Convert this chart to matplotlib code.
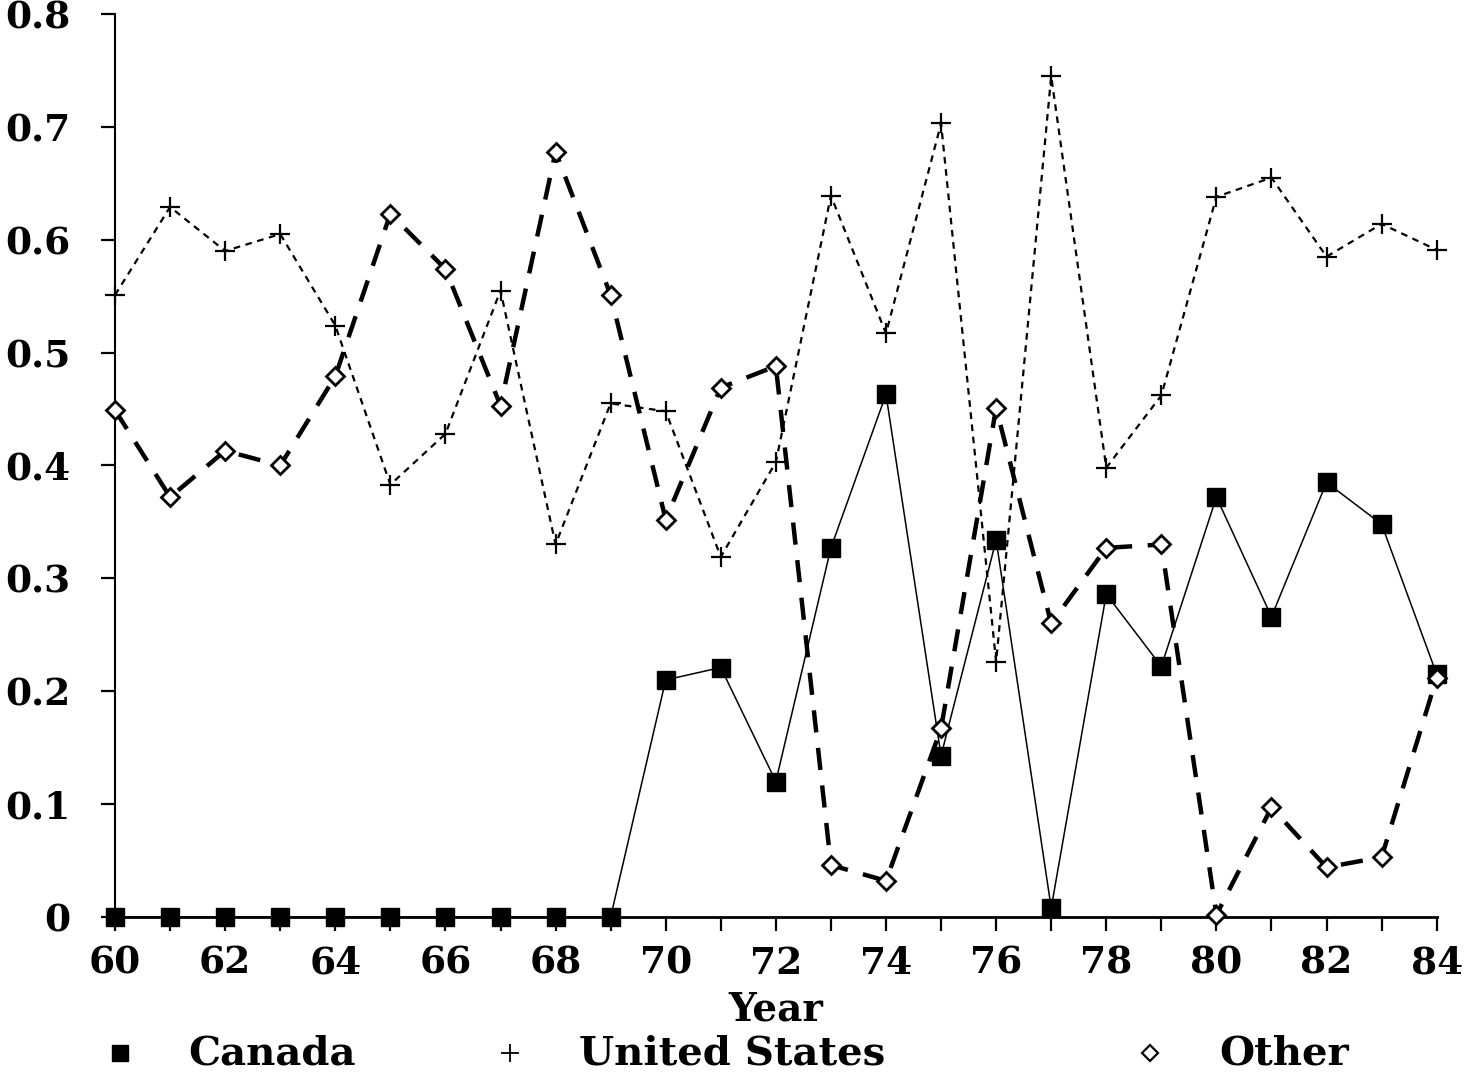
import matplotlib
matplotlib.use("Agg")
import matplotlib.pyplot as plt
from matplotlib.lines import Line2D

years = list(range(60, 85))

canada = [0, 0, 0, 0, 0, 0, 0, 0, 0, 0,
          0.210, 0.221, 0.120, 0.327, 0.463, 0.143, 0.334, 0.008,
          0.286, 0.222, 0.372, 0.266, 0.385, 0.348, 0.215]

united_states = [0.551, 0.629, 0.590, 0.605, 0.524, 0.383, 0.428, 0.555,
                 0.330, 0.455, 0.448, 0.319, 0.403, 0.639, 0.517, 0.703,
                 0.226, 0.745, 0.398, 0.462, 0.638, 0.655, 0.585, 0.614, 0.591]

other = [0.449, 0.372, 0.413, 0.400, 0.479, 0.623, 0.574, 0.453, 0.678,
         0.551, 0.352, 0.469, 0.488, 0.046, 0.032, 0.167, 0.451, 0.260,
         0.327, 0.330, 0.002, 0.097, 0.044, 0.053, 0.212]

series_names = ["Canada", "United States", "Other"]

plt.rcParams['font.family'] = ['DejaVu Serif']
plt.rcParams['font.weight'] = 'bold'

fig = plt.figure(figsize=(14.69, 10.76), dpi=100)
ax = fig.add_axes([0.0783, 0.1478, 0.8997, 0.8392])

ax.plot(years, canada, color='black', lw=1.1, ls='-', marker='s',
        markersize=13, markerfacecolor='black', clip_on=False, zorder=3)
ax.plot(years, united_states, color='black', lw=1.6, ls=(0, (3, 2.5)),
        marker='+', markersize=14, markeredgewidth=1.6, clip_on=False, zorder=3)
ax.plot(years, other, color='black', lw=3.2, ls=(0, (5, 3.5)),
        marker='D', markersize=9, markerfacecolor='white',
        markeredgewidth=2.0, clip_on=False, zorder=4)

ax.set_xlim(60, 84)
ax.set_ylim(0, 0.8)
ax.set_xticks(range(60, 85, 2))
ax.set_xticks(range(61, 85, 2), minor=True)
ax.set_yticks([0, 0.1, 0.2, 0.3, 0.4, 0.5, 0.6, 0.7, 0.8])
ax.set_yticklabels(['0', '0.1', '0.2', '0.3', '0.4', '0.5', '0.6', '0.7', '0.8'])
ax.spines['top'].set_visible(False)
ax.spines['right'].set_visible(False)
ax.spines['left'].set_linewidth(1.5)
ax.spines['bottom'].set_linewidth(2.0)
ax.tick_params(axis='both', which='both', direction='out', length=10, width=1.6,
               labelsize=27)
ax.tick_params(axis='x', pad=10)
ax.tick_params(axis='y', pad=22)
for lab in ax.get_xticklabels() + ax.get_yticklabels():
    lab.set_fontweight('bold')

fig.text(0.528, 0.062, "Year", ha='center', va='center', fontsize=28, fontweight='bold')

# legend row at the bottom
leg_y = 0.021
leg_items = [
    (0.082, 0.128, dict(marker='s', markersize=11, markerfacecolor='black',
                        markeredgecolor='black')),
    (0.347, 0.394, dict(marker='+', markersize=13, markeredgewidth=1.3,
                        markeredgecolor='black')),
    (0.783, 0.830, dict(marker='D', markersize=8, markerfacecolor='white',
                        markeredgecolor='black', markeredgewidth=1.6)),
]
for (mx, tx, style), name in zip(leg_items, series_names):
    fig.add_artist(Line2D([mx], [leg_y], transform=fig.transFigure,
                          linestyle='none', **style))
    fig.text(tx, leg_y, name, ha='left', va='center', fontsize=29, fontweight='bold')

fig.savefig("out.png", dpi=100)
